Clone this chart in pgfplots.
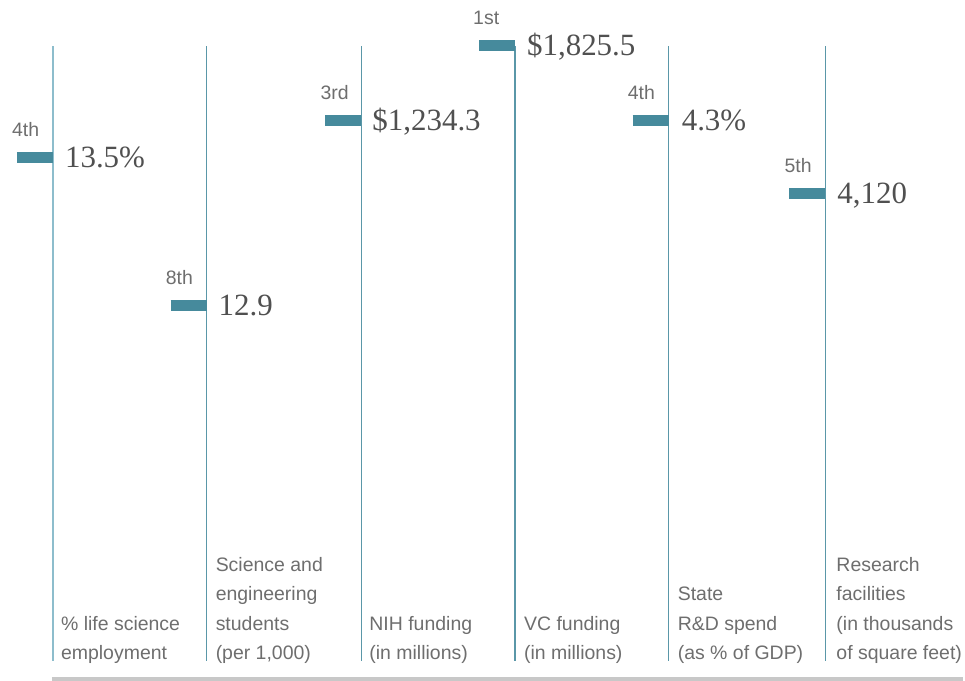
\documentclass[border=0pt]{standalone}
\usepackage{fontspec}
\setmainfont{Liberation Serif}
\setsansfont{Liberation Sans}
\usepackage{pgfplots}
\pgfplotsset{compat=1.18}
\definecolor{barteal}{HTML}{468A9C}
\definecolor{lineteal}{HTML}{5A97A8}
\definecolor{lightline}{HTML}{8DBDCC}
\definecolor{ranktxt}{HTML}{6E6E6E}
\definecolor{valtxt}{HTML}{505050}
\definecolor{basegray}{HTML}{C8C8C8}

% y runs upward in picture units (0 = bottom of the canvas)
\newcommand{\rk}[3]{\node[anchor=base west,inner sep=0pt,text=ranktxt,font=\sffamily\fontsize{19.5}{20}\selectfont] at (axis cs:#1,#2) {#3};}
\newcommand{\vl}[3]{\node[anchor=base west,inner sep=0pt,text=valtxt,font=\rmfamily\fontsize{31}{31}\selectfont] at (axis cs:#1,#2) {#3};}
\newcommand{\cat}[2]{\node[anchor=south west,inner sep=0pt,align=left,text=ranktxt,font=\sffamily\fontsize{19.5}{29.5}\selectfont] at (axis cs:#1,12) {#2};}

\begin{document}
\begin{tikzpicture}
\begin{axis}[scale only axis,width=965pt,height=682pt,
  xmin=0,xmax=965,ymin=0,ymax=682,hide axis,clip=false]
\addplot[draw=none] coordinates {(0,0) (965,682)};
% baseline
\addplot[basegray,line width=4pt] coordinates {(52,2) (965,2)};
% vertical guides
\addplot[lightline,line width=1.5pt] coordinates {(53,20) (53,636)};
\addplot[lineteal,line width=1.3pt] coordinates {(207,20) (207,636)};
\addplot[lineteal,line width=1.3pt] coordinates {(362,20) (362,636)};
\addplot[lineteal,line width=1.3pt] coordinates {(516,20) (516,636)};
\addplot[lineteal,line width=1.3pt] coordinates {(670,20) (670,636)};
\addplot[lineteal,line width=1.3pt] coordinates {(827,20) (827,636)};
% markers
\addplot[barteal,line width=11pt] coordinates {(17,524) (53,524)};
\addplot[barteal,line width=11pt] coordinates {(171,376) (207,376)};
\addplot[barteal,line width=11pt] coordinates {(326,561) (362,561)};
\addplot[barteal,line width=11pt] coordinates {(480,636) (516,636)};
\addplot[barteal,line width=11pt] coordinates {(634,561) (670,561)};
\addplot[barteal,line width=11pt] coordinates {(791,488) (827,488)};
% ranks
\rk{12}{545}{4th}
\rk{166}{397}{8th}
\rk{321}{582}{3rd}
\rk{474}{657}{1st}
\rk{629}{582}{4th}
\rk{786}{509}{5th}
% values
\vl{65}{514}{13.5\%}
\vl{219}{366}{12.9}
\vl{373}{551}{\$1,234.3}
\vl{528}{626}{\$1,825.5}
\vl{683}{551}{4.3\%}
\vl{839}{478}{4,120}
% categories
\cat{61}{\strut\% life science\\\strut employment}
\cat{216}{\strut Science and\\\strut engineering\\\strut students\\\strut (per 1,000)}
\cat{370}{\strut NIH funding\\\strut (in millions)}
\cat{525}{\strut VC funding\\\strut (in millions)}
\cat{679}{\strut State\\\strut R\&D spend\\\strut (as \% of GDP)}
\cat{838}{\strut Research\\\strut facilities\\\strut (in thousands\\\strut of square feet)}
\end{axis}
\end{tikzpicture}
\end{document}
